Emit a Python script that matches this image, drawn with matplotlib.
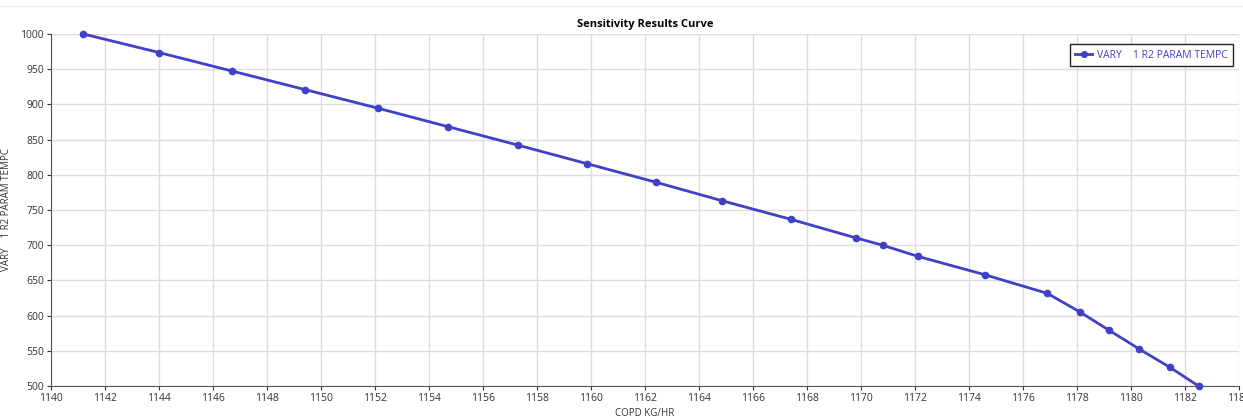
import matplotlib.pyplot as plt

# data
copd = [1141.2, 1144.0, 1146.7, 1149.4, 1152.1, 1154.7, 1157.3, 1159.85, 1162.4,
        1164.85, 1167.4, 1169.8, 1170.8, 1172.1, 1174.6, 1176.9, 1178.1, 1179.2,
        1180.3, 1181.45, 1182.5]
temp = [1000, 973.7, 947.4, 921.1, 894.7, 868.4, 842.1, 815.8, 789.5,
        763.2, 736.8, 710.5, 700, 684.2, 657.9, 631.6, 605.3, 578.9,
        552.6, 526.3, 500]
x_ticks = list(range(1140, 1186, 2))
y_ticks = list(range(500, 1001, 50))

plt.rcParams['font.family'] = ['Open Sans', 'DejaVu Sans']

fig = plt.figure(figsize=(12.43, 4.17), dpi=100)
ax = fig.add_axes([51 / 1243, 1 - 386 / 417, (1239 - 51) / 1243, (386 - 34) / 417])

line_color = '#4040c8'
ax.plot(copd, temp, color=line_color, lw=2, marker='o', ms=4.5,
        label='VARY    1 R2 PARAM TEMPC', clip_on=False, zorder=3)

ax.set_xlim(1140, 1184)
ax.set_ylim(500, 1000)
ax.set_xticks(x_ticks)
ax.set_yticks(y_ticks)
ax.grid(True, color='#dcdcdc', lw=1)
ax.set_axisbelow(True)

for side in ['top', 'right']:
    ax.spines[side].set_visible(False)
for side in ['left', 'bottom']:
    ax.spines[side].set_color('#555555')
ax.tick_params(labelsize=7.5, colors='#333333', length=3, pad=2)

ax.set_title('Sensitivity Results Curve', fontsize=8, fontweight='bold', pad=5)
ax.set_xlabel('COPD KG/HR', fontsize=7, color='#333333', labelpad=3)
ax.set_ylabel('VARY    1 R2 PARAM TEMPC', fontsize=7, color='#333333', labelpad=6)

leg = ax.legend(loc='upper right', fontsize=7.5, frameon=True, fancybox=False,
                borderpad=0.5, handlelength=1.6, handletextpad=0.5, markerscale=0.9,
                labelcolor=line_color, bbox_to_anchor=(0.9995, 0.985))
leg.get_frame().set_edgecolor('#222222')
leg.get_frame().set_linewidth(1)
leg.get_frame().set_alpha(1)

fig.add_artist(plt.Line2D([0, 1], [1 - 6 / 417] * 2, color='#f0f0f0', lw=1))

fig.savefig('out.png', dpi=100)
